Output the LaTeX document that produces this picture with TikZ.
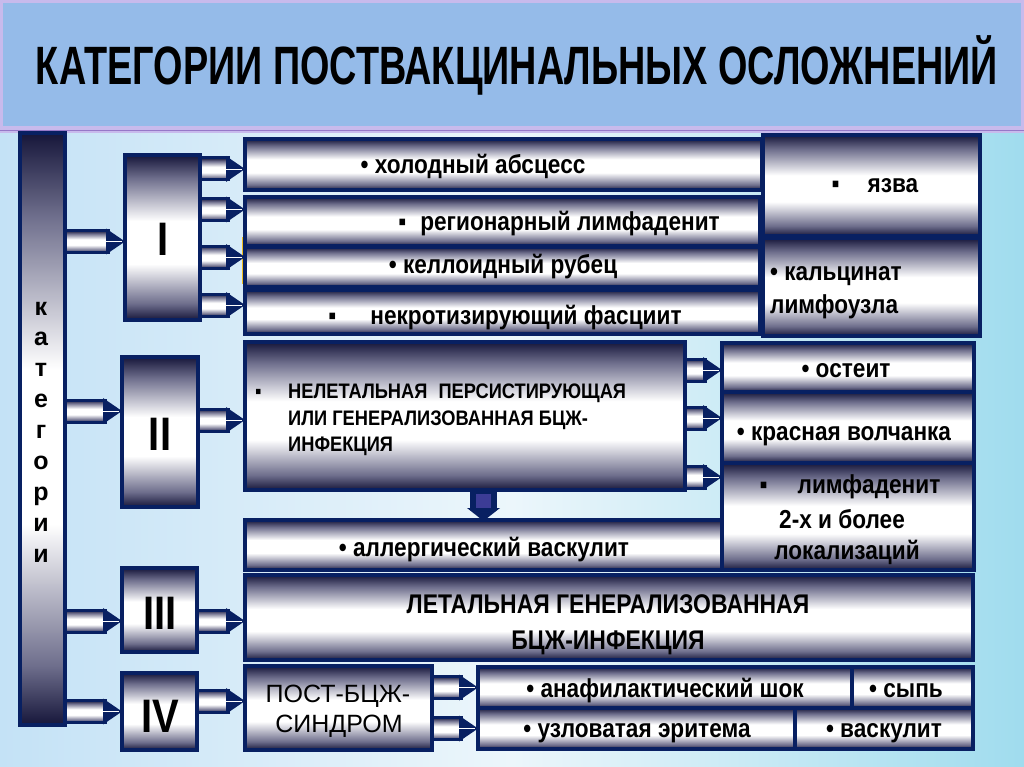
\documentclass[tikz,border=0pt]{standalone}
\usepackage{fontspec}
\setmainfont{Liberation Sans}
\newfontfamily\condf[FakeStretch=0.87]{Liberation Sans}
\newfontfamily\lethf[FakeStretch=0.85]{Liberation Sans}
\newfontfamily\titlef[FakeStretch=0.70]{Liberation Sans}
\newfontfamily\romf[FakeStretch=0.85]{Liberation Sans}
\usetikzlibrary{calc}
\definecolor{navy}{RGB}{8,32,98}
\definecolor{cD}{RGB}{22,22,58}
\definecolor{cM}{RGB}{110,110,140}
\definecolor{band}{RGB}{149,187,233}
\definecolor{lav}{RGB}{200,186,236}
\definecolor{lavD}{RGB}{150,120,200}
\definecolor{bgL}{RGB}{196,226,246}
\definecolor{bgM}{RGB}{236,246,251}
\definecolor{bgR}{RGB}{160,220,238}
\definecolor{ylw}{RGB}{240,190,30}
\definecolor{dnin}{RGB}{60,60,150}
\pgfdeclareverticalshading{cylsh}{100bp}{color(0bp)=(cD); color(25bp)=(cD); color(30bp)=(cM); color(42bp)=(white); color(55bp)=(white); color(68bp)=(cM); color(75bp)=(cD); color(100bp)=(cD)}
\tikzset{
  cyl/.style={draw=navy, line width=4pt, shade, shading=cylsh, inner sep=0pt, outer sep=0pt},
  shaft/.style={draw=navy, line width=3pt, shade, shading=cylsh},
  txt/.style={font=\condf\bfseries\fontsize{26}{28}\selectfont, anchor=base, inner sep=0pt},
  caps/.style={font=\condf\bfseries\fontsize{21}{26}\selectfont, anchor=base west, inner sep=0pt},
  lethtxt/.style={font=\lethf\bfseries\fontsize{27}{28}\selectfont, anchor=base, inner sep=0pt},
  posttxt/.style={font=\fontsize{25}{28}\selectfont, anchor=base, inner sep=0pt},
  rom/.style={font=\romf\bfseries\fontsize{47}{47}\selectfont, anchor=base, inner sep=0pt},
}
\newcommand\bx[5]{\node[cyl, anchor=north west, minimum width={#4-#2}, minimum height={#5-#3}] (#1) at (#2,#3) {};}
\newcommand\harr[2]{%
  \path[shaft] let \p1=#1, \p2=#2 in (\x1,\y2-11pt) rectangle (\x2-17pt,\y2+11pt);
  \fill[navy] let \p2=#2 in (\x2-19pt,\y2-13pt) -- (\x2,\y2) -- (\x2-19pt,\y2+13pt) -- cycle;
  \draw[white, line width=0.9pt] let \p2=#2 in (\x2-26pt,\y2) -- (\x2-3pt,\y2);
}
\begin{document}
\begin{tikzpicture}[x=1pt,y=-1pt]
\useasboundingbox (0,0) rectangle (1024,767);
% background
\shade[left color=bgL, right color=bgR, middle color=bgM] (0,128) rectangle (1024,767);
\fill[band] (0,0) rectangle (1024,128);
\draw[lav, line width=3pt] (1.5,1.5) rectangle (1022.5,128);
\fill[lav] (0,127) rectangle (1024,133);
\draw[lavD, line width=1pt] (0,131) -- (1024,131);
\node[font=\titlef\bfseries\fontsize{54}{54}\selectfont, anchor=base, inner sep=0pt] (title) at (517,85) {КАТЕГОРИИ ПОСТВАКЦИНАЛЬНЫХ ОСЛОЖНЕНИЙ};

% left bar
\bx{bar}{20}{133}{65}{725}
\foreach \ch [count=\i from 0] in {к,а,т,е,г,о,р,и,и}
  \node[font=\bfseries\fontsize{25}{25}\selectfont, anchor=base, inner sep=0pt] (k\i) at (41,{315+30.9*\i}) {\ch};

% category boxes
\bx{cI}{125}{155}{200}{320}
\bx{cII}{122}{357}{198}{507}
\bx{cIII}{122}{568}{197}{652}
\bx{cIV}{122}{673}{197}{750}
\node[rom] (rI) at (163,255) {I};
\node[rom] (rII) at (160,450) {II};
\node[rom] (rIII) at (160,629) {III};
\node[rom] (rIV) at (160,732) {IV};

% group I
\fill[ylw] (242,237) rectangle (248,284);
\bx{h1}{245}{139}{762}{190}
\bx{h2}{245}{197}{760}{246}
\bx{h3}{245}{247}{760}{287}
\bx{h4}{245}{290}{760}{334}
\bx{yazva}{763}{135}{980}{236}
\bx{kalc}{763}{238}{980}{336}
\node[txt] (t1) at (473,174) {• холодный абсцесс};
\node[txt] (t2) at (559,230) {▪\hspace{14pt}регионарный лимфаденит};
\node[txt] (t3) at (503,273) {• келлоидный рубец};
\node[txt] (t4) at (505,324) {▪\hspace{34pt}некротизирующий фасциит};
\node[txt] (t5) at (875,193) {▪\hspace{28pt}язва};
\node[txt, anchor=base west] (t6) at (770,280) {• кальцинат};
\node[txt, anchor=base west] (t7) at (770,313) {лимфоузла};

% group II
\bx{big}{245}{342}{685}{490}
\bx{ost}{722}{343}{974}{392}
\bx{volch}{722}{392}{974}{463}
\bx{limf}{722}{463}{974}{570}
\bx{allerg}{245}{520}{722}{570}
\node[caps] (b0) at (255,398) {▪};
\node[caps] (b1) at (288,398) {НЕЛЕТАЛЬНАЯ\hspace{6pt} ПЕРСИСТИРУЮЩАЯ};
\node[caps] (b2) at (288,425) {ИЛИ ГЕНЕРАЛИЗОВАННАЯ БЦЖ-};
\node[caps] (b3) at (288,451) {ИНФЕКЦИЯ};
\node[txt] (t8) at (846,377) {• остеит};
\node[txt] (t9) at (844,440) {• красная волчанка};
\node[txt] (t10) at (850,493) {▪\hspace{30pt}лимфаденит};
\node[txt] (t11) at (842,528) {2-х и более};
\node[txt] (t12) at (847,559) {локализаций};
\node[txt] (t13) at (484,556) {• аллергический васкулит};

% group III
\bx{leth}{245}{575}{973}{660}
\node[lethtxt] (t14) at (608,613) {ЛЕТАЛЬНАЯ ГЕНЕРАЛИЗОВАННАЯ};
\node[lethtxt] (t15) at (608,649) {БЦЖ-ИНФЕКЦИЯ};

% group IV
\bx{post}{245}{666}{432}{750}
\bx{anaf}{478}{667}{852}{708}
\bx{syp}{852}{667}{973}{708}
\bx{uzl}{478}{708}{795}{749}
\bx{vask}{795}{708}{973}{749}
\node[posttxt] (t16) at (338,702) {ПОСТ-БЦЖ-};
\node[posttxt] (t17) at (339,732) {СИНДРОМ};
\node[txt] (t18) at (665,697) {• анафилактический шок};
\node[txt] (t19) at (906,697) {• сыпь};
\node[txt] (t20) at (637,737) {• узловатая эритема};
\node[txt] (t21) at (884,737) {• васкулит};

% connectors
\harr{(bar.east)}{($(cI.west)+(0,4)$)}
\harr{(bar.east)}{($(cII.west)+(0,-21)$)}
\harr{(bar.east)}{($(cIII.west)+(0,11)$)}
\harr{(bar.east)}{(cIV.west)}
\harr{(cI.east)}{($(h1.west)+(0,4.5)$)}
\harr{(cI.east)}{($(h2.west)+(0,-12)$)}
\harr{(cI.east)}{($(h3.west)+(0,-10)$)}
\harr{(cI.east)}{($(h4.west)+(0,-7)$)}
\harr{(cII.east)}{($(big.west)+(0,4)$)}
\harr{(big.east)}{($(ost.west)+(0,2.5)$)}
\harr{(big.east)}{($(volch.west)+(0,-9.5)$)}
\harr{(big.east)}{($(limf.west)+(0,-39.5)$)}
\harr{(cIII.east)}{($(leth.west)+(0,3.5)$)}
\harr{(cIV.east)}{($(post.west)+(0,-7)$)}
\harr{(post.east)}{(anaf.west)}
\harr{(post.east)}{(uzl.west)}
% down arrow
\fill[navy] let \p1=(big.south), \p2=(allerg.north) in (470,\y1) rectangle (497,\y2+10pt);
\fill[dnin] let \p1=(big.south), \p2=(allerg.north) in (476,\y1-4pt) rectangle (491,\y2+12pt);
\fill[navy] let \p2=(allerg.north) in (467,\y2+12pt) -- (500,\y2+12pt) -- (483.5,\y2-1pt) -- cycle;
\end{tikzpicture}
\end{document}
